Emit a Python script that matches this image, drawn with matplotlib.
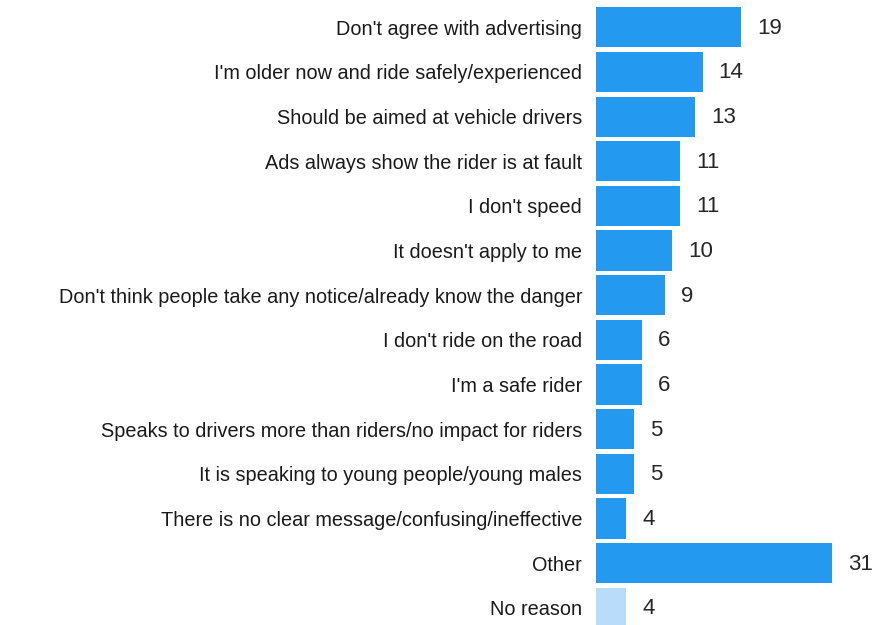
import matplotlib
matplotlib.use('Agg')
import matplotlib.pyplot as plt

categories = [
    "Don't agree with advertising",
    "I'm older now and ride safely/experienced",
    "Should be aimed at vehicle drivers",
    "Ads always show the rider is at fault",
    "I don't speed",
    "It doesn't apply to me",
    "Don't think people take any notice/already know the danger",
    "I don't ride on the road",
    "I'm a safe rider",
    "Speaks to drivers more than riders/no impact for riders",
    "It is speaking to young people/young males",
    "There is no clear message/confusing/ineffective",
    "Other",
    "No reason",
]
values = [19, 14, 13, 11, 11, 10, 9, 6, 6, 5, 5, 4, 31, 4]
colors = ['#2399f0'] * 13 + ['#b9dcfa']

plt.rcParams['font.family'] = ['Liberation Sans', 'DejaVu Sans']

W, H = 884, 625
fig = plt.figure(figsize=(W / 100, H / 100), dpi=100)
ax = fig.add_axes([596 / W, 0, 282 / W, 620 / H])

pos = list(range(len(categories)))
ax.barh(pos, values, height=0.9, color=colors, edgecolor='none')
for p, v in zip(pos, values):
    ax.annotate(str(v), (v, p), xytext=(16, -1), textcoords='offset pixels',
                va='center', ha='left', fontsize=16, color='#262626')

ax.set_xlim(0, 37)
ax.set_ylim(13.386, -0.5)
ax.set_yticks(pos)
ax.set_yticklabels(categories, fontsize=14.3, color='#1a1a1a')
ax.tick_params(axis='y', length=0, pad=10)
ax.set_xticks([])
for s in ax.spines.values():
    s.set_visible(False)

fig.savefig('out.png', dpi=100)
